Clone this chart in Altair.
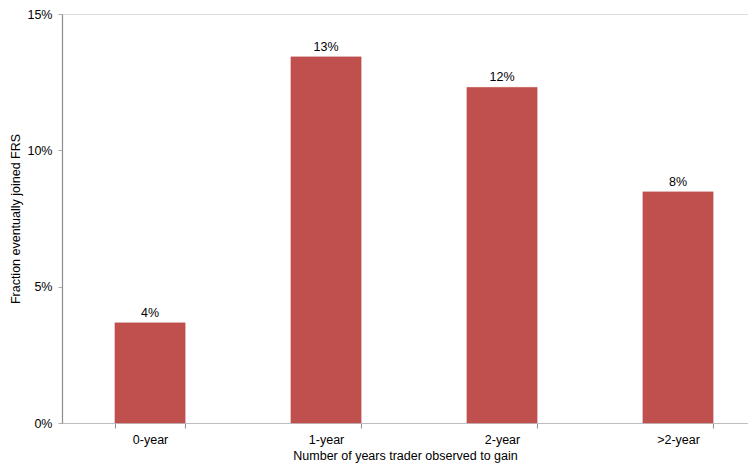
import altair as alt
import pandas as pd

categories = ["0-year", "1-year", "2-year", ">2-year"]
values = [0.0368, 0.1343, 0.1231, 0.0848]

df = pd.DataFrame({"cat": categories, "val": values})

FONT = "Liberation Sans"

x = alt.X(
    "cat:N",
    sort=categories,
    title="Number of years trader observed to gain",
    scale=alt.Scale(paddingInner=0.6, paddingOuter=0.249, align=0.603),
    axis=alt.Axis(
        labelAngle=0,
        labelFont=FONT,
        labelFontSize=12.5,
        labelColor="#000000",
        labelPadding=5,
        titleFont=FONT,
        titleFontSize=12.5,
        titleFontWeight="normal",
        titleColor="#000000",
        titlePadding=4,
        domainColor="#bfbfbf",
        domainWidth=1.2,
        tickColor="#8c8c8c",
        tickSize=5,
        tickBand="extent",
    ),
)

y = alt.Y(
    "val:Q",
    title="Fraction eventually joined FRS",
    scale=alt.Scale(domain=[0, 0.15], nice=False),
    axis=alt.Axis(
        values=[0, 0.05, 0.10, 0.15],
        format=".0%",
        grid=False,
        labelFont=FONT,
        labelFontSize=12.5,
        labelColor="#000000",
        labelPadding=6,
        titleFont=FONT,
        titleFontSize=12.5,
        titleFontWeight="normal",
        titleColor="#000000",
        titlePadding=4,
        domainColor="#8c8c8c",
        domainWidth=1.2,
        tickColor="#b0b0b0",
        tickSize=4,
    ),
)

base = alt.Chart(df)

bars = base.mark_bar(color="#C0504D", stroke="#C0504D", strokeOpacity=0.3).encode(x=x, y=y)

labels = base.mark_text(
    dy=-10, font=FONT, fontSize=12.5, color="#000000"
).encode(
    x=alt.X("cat:N", sort=categories),
    y=alt.Y("val:Q"),
    text=alt.Text("val:Q", format=".0%"),
)

chart = (
    alt.layer(bars, labels)
    .properties(
        width=686,
        height=409,
        autosize=alt.AutoSizeParams(type="none"),
        padding={"top": 6, "left": 54, "right": 0, "bottom": 40},
    )
    .configure_view(stroke=None)
    .configure(background="#ffffff")
)

chart.save("out.html", embed_options={"renderer": "svg", "actions": False})
